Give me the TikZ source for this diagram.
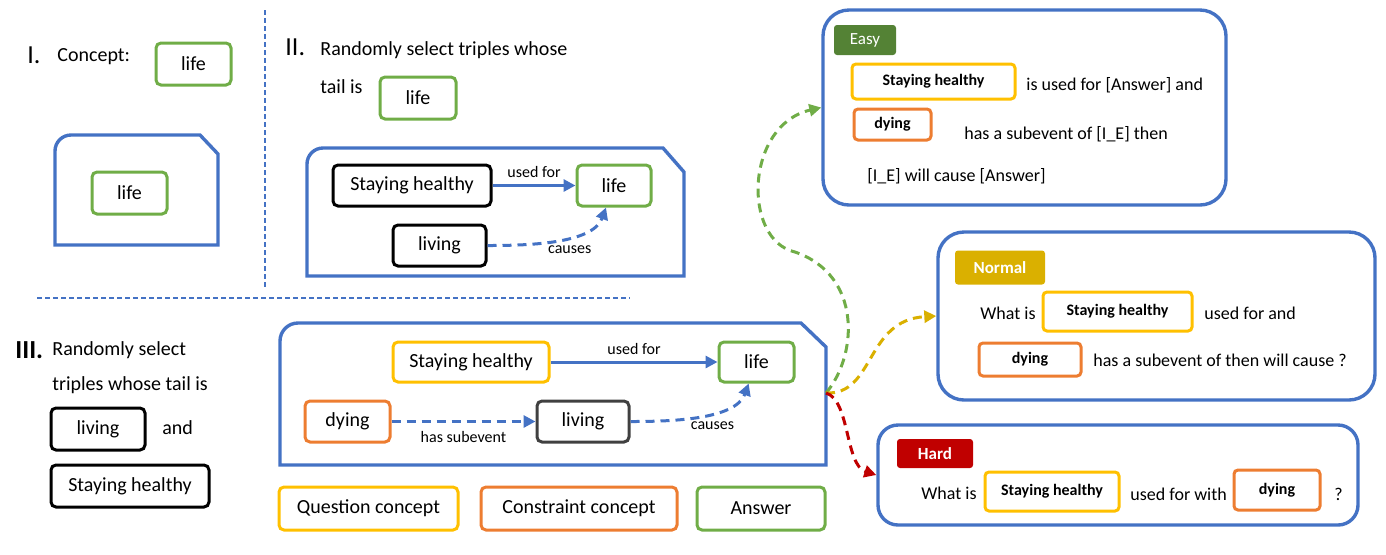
\documentclass[tikz,border=0pt]{standalone}
\usepackage{fontspec}
\setmainfont{Carlito}
\usetikzlibrary{arrows.meta,positioning}
\definecolor{bl}{HTML}{4472C4}
\definecolor{gr}{HTML}{70AD47}
\definecolor{ye}{HTML}{FFC000}
\definecolor{og}{HTML}{ED7D31}
\definecolor{dg}{HTML}{548235}
\definecolor{gd}{HTML}{DAB000}
\definecolor{rd}{HTML}{C00000}
\definecolor{dk}{HTML}{404040}
\begin{document}
\begin{tikzpicture}[x=0.5pt,y=-0.5pt,>={Triangle[length=6pt,width=6pt]},every node/.style={inner sep=0pt},
	cbox/.style={rectangle,draw,rounded corners=2.5pt,line width=1.5pt,font=\fontsize{10}{12}\selectfont},
	sbox/.style={rectangle,draw,rounded corners=2pt,line width=1.5pt,font=\bfseries\fontsize{8}{10}\selectfont},
	panel/.style={rectangle,draw=bl,line width=1.7pt,rounded corners=13pt},
	tag/.style={rectangle,rounded corners=1.5pt,text=white,font=\fontsize{8.5}{10}\selectfont},
	txt/.style={anchor=west,font=\fontsize{9}{11}\selectfont},
	head/.style={anchor=west,font=\fontsize{10}{12}\selectfont},
	num/.style={anchor=west,font=\fontsize{13}{15}\selectfont},
	rel/.style={->,bl,line width=1.5pt},
	dsh/.style={dash pattern=on 4.5pt off 3pt},
	lbl/.style={text=black,font=\fontsize{8}{10}\selectfont},
	sz/.style 2 args={minimum width=#1*0.5pt,minimum height=#2*0.5pt}]
	\useasboundingbox (0,0) rectangle (1386,554);
	\draw[bl,line width=0.6pt,dash pattern=on 2.5pt off 1.5pt] (265,10) -- (265,287);
	\draw[bl,line width=0.6pt,dash pattern=on 2.5pt off 1.5pt] (37,298) -- (630,298);
	
	\node[num] (i) at (27,55) {I.};
	\node[head] (c) at (57,57) {Concept:};
	\node[cbox,draw=gr,sz={75}{42}] (1) at (193.5,64) {life};
	\draw[bl,line width=1.7pt] (55,200) [rounded corners=8pt] -- (55,135) -- (130,135) [sharp corners] -- (200,135) -- (218,154) -- (218,245) -- (55,245) -- cycle;
	\node[cbox,draw=gr,sz={75}{42}] (0) at (129.5,193) {life};
	
	\node[num] (ii) at (285,47) {II.};
	\node[head] at (320,50) {Randomly select triples whose};
	\node[head] at (320,87) {tail is};
	\node[cbox,draw=gr,sz={76}{42}] (2) at (418,98) {life};
	\draw[bl,line width=1.7pt] (307,210) [rounded corners=8pt] -- (307,148) -- (480,148) [sharp corners] -- (663,148) -- (684,172) -- (684,276) -- (307,276) -- cycle;
	\node[cbox,sz={158}{41}] (3) at (412,185.5) {Staying healthy};
	\node[cbox,draw=gr,sz={74}{41}] (4) at (614,185.5) {life};
	\node[cbox,sz={93}{41}] (5) at (439.5,245.5) {living};
	\draw[rel] (3) -- node[lbl,above=3pt] {used for} (4);
	\draw[rel,dsh] (5) to[out=0,in=-110,looseness=0.8] node[lbl,pos=0.6,below=4pt] {causes} (4);
	
	\node[num,font=\bfseries\fontsize{13}{15}\selectfont] (iii) at (15,350) {III.};
	\node[head] at (52,350) {Randomly select};
	\node[head] at (52,385) {triples whose tail is};
	\node[cbox,sz={94}{42}] (6) at (98,429) {living};
	\node[head] at (162,428) {and};
	\node[cbox,sz={158}{42}] (7) at (130,486) {Staying healthy};
	\draw[bl,line width=1.7pt] (280,400) [rounded corners=9pt] -- (280,323) -- (500,323) [sharp corners] -- (801,323) -- (826,347) -- (826,465) -- (280,465) -- cycle;
	\coordinate (p) at (826,393);
	\node[cbox,draw=ye,sz={156}{40}] (8) at (471,362) {Staying healthy};
	\node[cbox,draw=gr,sz={75}{40}] (9) at (756.5,362) {life};
	\node[cbox,draw=og,sz={85}{41}] (10) at (347.5,421.5) {dying};
	\node[cbox,draw=dk,sz={92}{41}] (11) at (583,421.5) {living};
	\draw[rel] (8) -- node[lbl,above=3pt] {used for} (9);
	\draw[rel,dsh] (10) -- node[lbl,below=4pt] {has subevent} (11);
	\draw[rel,dsh] (11) to[out=0,in=-110,looseness=0.8] node[lbl,pos=0.6,below=4pt] {causes} (9);
	
	\node[cbox,draw=ye,sz={179}{43}] (12) at (368.5,508.5) {Question concept};
	\node[cbox,draw=og,sz={196}{43}] (13) at (579,508.5) {Constraint concept};
	\node[cbox,draw=gr,sz={128}{43}] (14) at (761,508.5) {Answer};
	
	\node[panel,sz={403}{195}] (e) at (1024.5,107.5) {};
	\node[tag,fill=dg,sz={62}{30}] (15) at (865,40) {Easy};
	\node[sbox,draw=ye,sz={163}{35}] (16) at (933.5,81.5) {Staying healthy};
	\node[txt] at (1026,85) {is used for [Answer] and};
	\node[sbox,draw=og,sz={77}{31}] (17) at (892.5,124.5) {dying};
	\node[txt] at (964,134) {has a subevent of [I\_E] then};
	\node[txt] at (867,176) {[I\_E] will cause [Answer]};
	
	\node[panel,sz={437}{168}] (n) at (1156.5,316) {};
	\node[tag,fill=gd,font=\bfseries\fontsize{8.5}{10}\selectfont,sz={90}{34}] (18) at (1000,267.5) {Normal};
	\node[txt] at (980,313) {What is};
	\node[sbox,draw=ye,sz={149}{39}] (19) at (1117.5,311.5) {Staying healthy};
	\node[txt] at (1204,313) {used for and};
	\node[sbox,draw=og,sz={102}{33}] (20) at (1030,359.5) {dying};
	\node[txt] at (1093,360) {has a subevent of then will cause ?};
	
	\node[panel,rounded corners=10pt,sz={480}{100}] (h) at (1118,475) {};
	\node[tag,fill=rd,font=\bfseries\fontsize{8.5}{10}\selectfont,sz={76}{29}] (21) at (935,453.5) {Hard};
	\node[txt] at (921,493) {What is};
	\node[sbox,draw=ye,sz={134}{39}] (22) at (1052,491.5) {Staying healthy};
	\node[txt] at (1130,494) {used for with};
	\node[sbox,draw=og,sz={86}{40}] (23) at (1277,490) {dying};
	\node[txt] at (1334,494) {?};
	
	\draw[->,gr,line width=1.5pt,dsh] (p) .. controls (858,355) and (862,275) .. (795,252) .. controls (742,240) and (745,125) .. (e.west);
	\draw[->,gd,line width=1.5pt,dsh] (p) .. controls (875,395) and (865,320) .. (n.west);
	\draw[->,rd,line width=1.5pt,dsh] (p) .. controls (850,400) and (845,465) .. (h.west);
\end{tikzpicture}
\end{document}
